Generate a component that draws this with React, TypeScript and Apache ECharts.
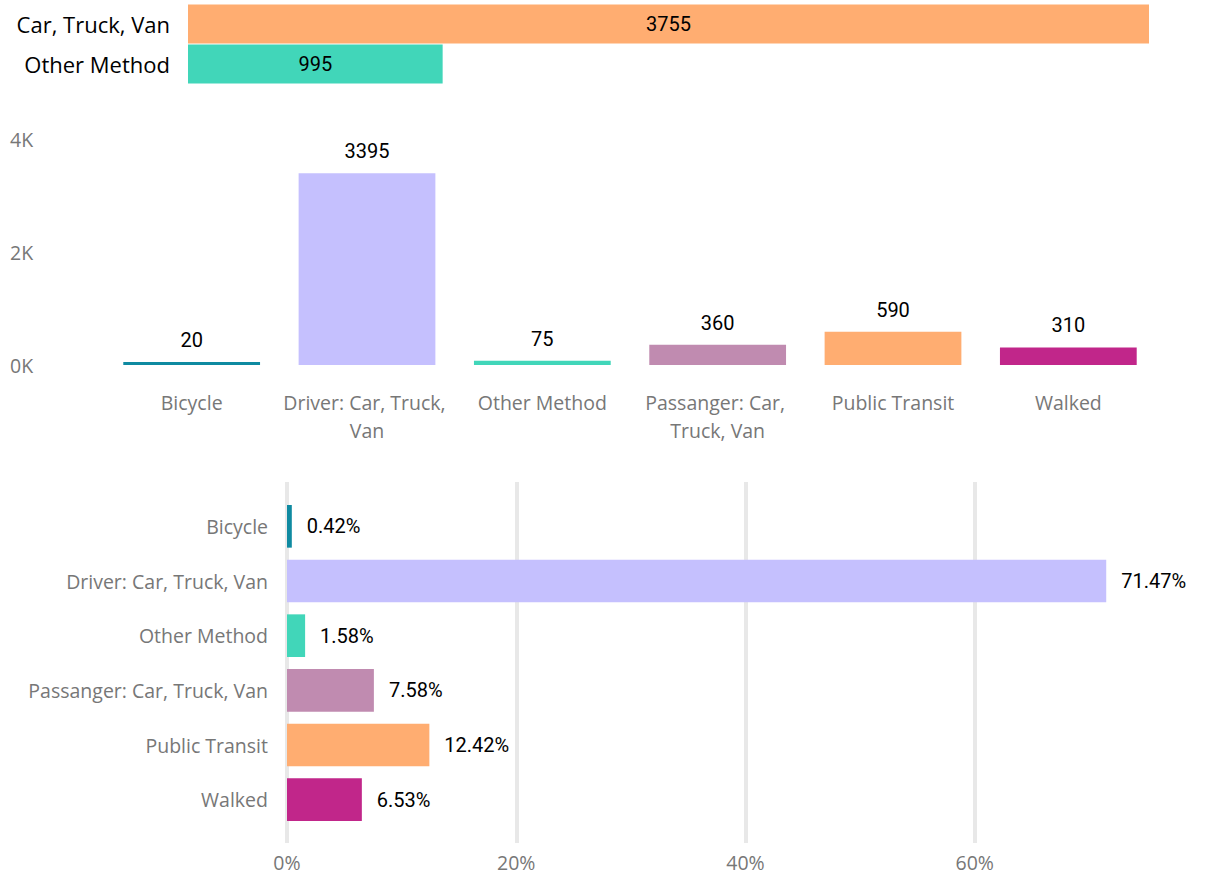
import React, { useEffect, useRef } from "react";
import * as echarts from "echarts";

// ---------- data ----------
const topCategories = ["Car, Truck, Van", "Other Method"];
const topValues = [3755, 995];
const topColors = ["#FFAD71", "#41D6B9"];

const modeCategories = [
  "Bicycle",
  "Driver: Car, Truck, Van",
  "Other Method",
  "Passanger: Car, Truck, Van",
  "Public Transit",
  "Walked",
];
const modeCounts = [20, 3395, 75, 360, 590, 310];
const modeShares = [0.42, 71.47, 1.58, 7.58, 12.42, 6.53];
const modeColors = ["#0F8AA1", "#C5C0FE", "#41D6B9", "#C08BB0", "#FFAD71", "#C1268A"];

const countAxis = { min: 0, max: 4000, interval: 2000 };
const shareAxis = { min: 0, max: 80, interval: 20 };

const LABEL_FONT = "'Segoe UI', 'Open Sans', sans-serif";
const VALUE_FONT = "Roboto, 'DejaVu Sans', sans-serif";
const GRAY = "#777777";

export default function App() {
  const ref = useRef<HTMLDivElement>(null);

  useEffect(() => {
    if (!ref.current) return;
    const chart = echarts.init(ref.current, undefined, { renderer: "svg" });

    const colorFn = (cols: string[]) => (p: any) => cols[p.dataIndex];

    chart.setOption({
      animation: false,
      backgroundColor: "#ffffff",
      grid: [
        { left: 188, right: 57, top: 4, height: 80 },
        { left: 104, right: 50, top: 139, height: 226 },
        { left: 287, right: 2, top: 482, height: 361 },
        { left: 287, right: 2, top: 499, height: 328 },
      ],
      xAxis: [
        { gridIndex: 0, type: "value", min: 0, max: topValues[0], show: false },
        {
          gridIndex: 1,
          type: "category",
          data: modeCategories,
          axisLine: { show: false },
          axisTick: { show: false },
          axisLabel: {
            interval: 0,
            color: GRAY,
            fontFamily: LABEL_FONT,
            fontSize: 19.5,
            lineHeight: 28,
            margin: 23,
            width: 172,
            overflow: "break",
          },
        },
        {
          gridIndex: 2,
          type: "value",
          min: shareAxis.min,
          max: shareAxis.max,
          interval: shareAxis.interval,
          axisLine: { show: false },
          axisTick: { show: false },
          splitLine: {
            show: true,
            showMaxLine: false,
            lineStyle: { color: "#E8E8E8", width: 4 },
          },
          axisLabel: {
            color: GRAY,
            fontFamily: LABEL_FONT,
            fontSize: 19.5,
            margin: 9,
            showMaxLabel: false,
            formatter: "{value}%",
          },
        },
        { gridIndex: 3, type: "value", min: shareAxis.min, max: shareAxis.max, show: false },
      ],
      yAxis: [
        {
          gridIndex: 0,
          type: "category",
          inverse: true,
          data: topCategories,
          axisLine: { show: false },
          axisTick: { show: false },
          axisLabel: { color: "#000000", fontFamily: LABEL_FONT, fontSize: 22, margin: 18 },
        },
        {
          gridIndex: 1,
          type: "value",
          min: countAxis.min,
          max: countAxis.max,
          interval: countAxis.interval,
          splitLine: { show: false },
          axisLine: { show: false },
          axisTick: { show: false },
          axisLabel: {
            color: GRAY,
            fontFamily: LABEL_FONT,
            fontSize: 19.5,
            align: "left",
            margin: 94,
            formatter: (v: number) => `${v / 1000}K`,
          },
        },
        { gridIndex: 2, type: "category", data: modeCategories, show: false },
        {
          gridIndex: 3,
          type: "category",
          inverse: true,
          data: modeCategories,
          axisLine: { show: false },
          axisTick: { show: false },
          axisLabel: { color: GRAY, fontFamily: LABEL_FONT, fontSize: 19.5, margin: 19 },
        },
      ],
      series: [
        {
          type: "bar",
          xAxisIndex: 0,
          yAxisIndex: 0,
          data: topValues,
          barCategoryGap: "2%",
          itemStyle: { color: colorFn(topColors) },
          label: {
            show: true,
            position: "inside",
            color: "#000000",
            fontFamily: VALUE_FONT,
            fontSize: 20,
          },
        },
        {
          type: "bar",
          xAxisIndex: 1,
          yAxisIndex: 1,
          data: modeCounts,
          barCategoryGap: "22%",
          barMinHeight: 3,
          itemStyle: { color: colorFn(modeColors) },
          label: {
            show: true,
            position: "top",
            distance: 12,
            color: "#000000",
            fontFamily: VALUE_FONT,
            fontSize: 20,
          },
        },
        {
          type: "bar",
          xAxisIndex: 3,
          yAxisIndex: 3,
          data: modeShares,
          barCategoryGap: "22%",
          itemStyle: { color: colorFn(modeColors) },
          label: {
            show: true,
            position: "right",
            distance: 15,
            color: "#000000",
            fontFamily: VALUE_FONT,
            fontSize: 20,
            formatter: (p: any) => `${Number(p.value).toFixed(2)}%`,
          },
        },
      ],
    });

    return () => chart.dispose();
  }, []);

  return (
    <div
      ref={ref}
      style={{ position: "fixed", left: 0, top: 0, width: 1206, height: 875, background: "#fff" }}
    />
  );
}
